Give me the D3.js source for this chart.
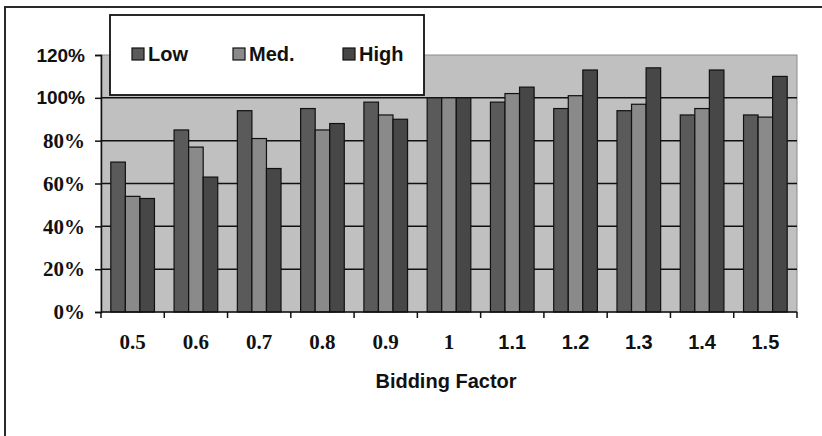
<!DOCTYPE html>
<html>
<head>
<meta charset="utf-8">
<script src="https://cdn.jsdelivr.net/npm/d3@7"></script>
<style>
  html, body { margin: 0; padding: 0; background: #fff; }
  svg { display: block; }
</style>
</head>
<body>
<svg id="chart" width="822" height="436"></svg>
<script>
// Bidding factor categories and the three series (share of baseline)
const categories = ["0.5", "0.6", "0.7", "0.8", "0.9", "1", "1.1", "1.2", "1.3", "1.4", "1.5"];
const seriesNames = ["Low", "Med.", "High"];
const lowValues  = [0.70, 0.85, 0.94, 0.95, 0.98, 1.00, 0.98, 0.95, 0.94, 0.92, 0.92];
const medValues  = [0.54, 0.77, 0.81, 0.85, 0.92, 1.00, 1.02, 1.01, 0.97, 0.95, 0.91];
const highValues = [0.53, 0.63, 0.67, 0.88, 0.90, 1.00, 1.05, 1.13, 1.14, 1.13, 1.10];
const yTicks = [0, 0.2, 0.4, 0.6, 0.8, 1.0, 1.2];
const xTitle = "Bidding Factor";

const seriesValues = [lowValues, medValues, highValues];
const colors = ["#5a5a5a", "#8a8a8a", "#474747"];

const svg = d3.select("#chart");
const plot = { left: 101, right: 797, top: 55, bottom: 312 };

// Outer frame (top and left edges)
svg.append("line").attr("x1", 4).attr("x2", 822).attr("y1", 7).attr("y2", 7)
  .attr("stroke", "#2a2a2a").attr("stroke-width", 2);
svg.append("line").attr("x1", 5).attr("x2", 5).attr("y1", 7).attr("y2", 436)
  .attr("stroke", "#2a2a2a").attr("stroke-width", 2);

const x0 = d3.scaleBand().domain(categories).range([plot.left, plot.right]).padding(0);
const bw = x0.bandwidth();
const x1 = d3.scaleBand().domain(seriesNames).range([bw * 0.155, bw * 0.845]).padding(0);
const y = d3.scaleLinear().domain([0, 1.2]).range([plot.bottom, plot.top]);

const sansFont = "'Liberation Sans', Arial, sans-serif";
const serifFont = "'Liberation Serif', 'Times New Roman', serif";

// Plot background
svg.append("rect")
  .attr("x", plot.left).attr("y", plot.top)
  .attr("width", plot.right - plot.left).attr("height", plot.bottom - plot.top)
  .attr("fill", "#c0c0c0").attr("stroke", "#8a8a8a").attr("stroke-width", 1);

// Horizontal gridlines
svg.append("g").selectAll("line").data(yTicks.filter(d => d > 0 && d < 1.2)).join("line")
  .attr("x1", plot.left).attr("x2", plot.right)
  .attr("y1", d => y(d)).attr("y2", d => y(d))
  .attr("stroke", "#111").attr("stroke-width", 1.5);

// Bars
const groups = svg.append("g").selectAll("g").data(categories).join("g")
  .attr("transform", c => `translate(${x0(c)},0)`);
groups.selectAll("rect")
  .data((c, i) => seriesNames.map((s, k) => ({ s, k, v: seriesValues[k][i] })))
  .join("rect")
  .attr("x", d => x1(d.s))
  .attr("width", x1.bandwidth())
  .attr("y", d => y(d.v))
  .attr("height", d => y(0) - y(d.v))
  .attr("fill", d => colors[d.k])
  .attr("stroke", "#111").attr("stroke-width", 1.2);

// Y axis
const yAxis = svg.append("g").attr("transform", `translate(${plot.left},0)`)
  .call(d3.axisLeft(y).tickValues(yTicks).tickFormat(d3.format(".0%")).tickSize(6).tickPadding(10));
yAxis.select(".domain").attr("stroke", "#111").attr("stroke-width", 1.5);
yAxis.selectAll(".tick line").attr("stroke", "#111").attr("stroke-width", 1.5);
yAxis.selectAll(".tick text")
  .attr("font-family", d => d <= 0.8 ? serifFont : sansFont)
  .attr("font-size", d => d <= 0.8 ? 21 : 19)
  .attr("font-weight", "bold").attr("fill", "#111");

// X axis: ticks on category boundaries
const xAxisG = svg.append("g").attr("transform", `translate(0,${plot.bottom})`);
xAxisG.append("line").attr("x1", plot.left).attr("x2", plot.right)
  .attr("stroke", "#111").attr("stroke-width", 1.5);
const boundaries = categories.map(c => x0(c)).concat([x0(categories[categories.length - 1]) + bw]);
xAxisG.selectAll("line.tk").data(boundaries).join("line").attr("class", "tk")
  .attr("x1", d => d).attr("x2", d => d).attr("y1", 0).attr("y2", 6)
  .attr("stroke", "#111").attr("stroke-width", 1.5);
xAxisG.selectAll("text").data(categories).join("text")
  .attr("x", c => x0(c) + bw / 2)
  .attr("y", 37)
  .attr("text-anchor", "middle")
  .attr("font-family", (c, i) => i <= 5 ? serifFont : sansFont)
  .attr("font-size", (c, i) => i <= 5 ? 21 : 20)
  .attr("font-weight", "bold").attr("fill", "#111")
  .text(c => c);

// X axis title
svg.append("text")
  .attr("x", (plot.left + plot.right) / 2 - 3).attr("y", 388)
  .attr("text-anchor", "middle")
  .attr("font-family", sansFont).attr("font-size", 20).attr("font-weight", "bold")
  .attr("fill", "#111")
  .text(xTitle);

// Legend
const legend = svg.append("g");
legend.append("rect").attr("x", 110).attr("y", 15).attr("width", 314).attr("height", 80)
  .attr("fill", "#fff").attr("stroke", "#111").attr("stroke-width", 1.8);
const legendX = [132, 233, 343];
const items = legend.selectAll("g.item").data(seriesNames).join("g").attr("class", "item")
  .attr("transform", (d, i) => `translate(${legendX[i]},54)`);
items.append("rect").attr("x", 0).attr("y", -6).attr("width", 12).attr("height", 12)
  .attr("fill", (d, i) => colors[i]).attr("stroke", "#111").attr("stroke-width", 1.2);
items.append("text").attr("x", 16).attr("y", 7)
  .attr("font-family", sansFont).attr("font-size", 20).attr("font-weight", "bold")
  .attr("fill", "#111")
  .text(d => d);
</script>
</body>
</html>
